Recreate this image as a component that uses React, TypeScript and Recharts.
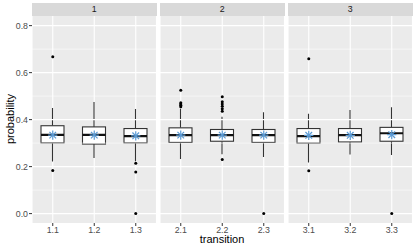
import { ComposedChart, Bar, Scatter, XAxis, YAxis, CartesianGrid, ReferenceLine } from "recharts";

const facets = ["1", "2", "3"];
const transitions = ["1.1", "1.2", "1.3", "2.1", "2.2", "2.3", "3.1", "3.2", "3.3"];
const whiskerLow = [0.222, 0.237, 0.223, 0.232, 0.253, 0.241, 0.217, 0.252, 0.249];
const lowerQuartile = [0.301, 0.296, 0.301, 0.303, 0.308, 0.303, 0.3, 0.305, 0.308];
const medians = [0.335, 0.335, 0.33, 0.334, 0.334, 0.334, 0.33, 0.334, 0.342];
const upperQuartile = [0.374, 0.369, 0.362, 0.365, 0.358, 0.358, 0.362, 0.362, 0.367];
const whiskerHigh = [0.449, 0.475, 0.445, 0.446, 0.412, 0.431, 0.425, 0.441, 0.453];
const means = [0.334, 0.334, 0.331, 0.334, 0.334, 0.334, 0.333, 0.333, 0.336];

const outlierTransition = [
  "1.1", "1.1", "1.3", "1.3", "1.3",
  "2.1", "2.1", "2.1", "2.1", "2.1",
  "2.2", "2.2", "2.2", "2.2", "2.2", "2.2", "2.2",
  "2.3", "3.1", "3.1", "3.3",
];
const outlierValue = [
  0.668, 0.183, 0.214, 0.177, 0.0,
  0.525, 0.472, 0.466, 0.461, 0.455,
  0.497, 0.476, 0.466, 0.457, 0.446, 0.436, 0.23,
  0.0, 0.659, 0.182, 0.0,
];

const majorTicks = [0, 0.2, 0.4, 0.6, 0.8];
const minorTicks = [0.1, 0.3, 0.5, 0.7];
const yDomain = [-0.04, 0.841];

const FONT = "'Liberation Sans', Arial, sans-serif";
const PANEL_LEFT = [32, 160, 288];
const PANEL_W = 124.5;

const BoxShape = (props: any) => {
  const { x, y, width, height, payload } = props;
  const top = Math.min(y, y + height);
  const h = Math.abs(height);
  const py = (v: number) => top + ((payload.hi - v) / (payload.hi - payload.lo)) * h;
  const cx = x + width / 2;
  return (
    <g>
      <line x1={cx} x2={cx} y1={py(payload.hi)} y2={py(payload.q3)} stroke="#333333" strokeWidth={1.1} />
      <line x1={cx} x2={cx} y1={py(payload.q1)} y2={py(payload.lo)} stroke="#333333" strokeWidth={1.1} />
      <rect x={x} y={py(payload.q3)} width={width} height={py(payload.q1) - py(payload.q3)} fill="#ffffff" stroke="#333333" strokeWidth={1.1} />
      <line x1={x} x2={x + width} y1={py(payload.med)} y2={py(payload.med)} stroke="#111111" strokeWidth={2.2} />
    </g>
  );
};

const Star = (props: any) => {
  const { cx, cy } = props;
  const r = 4.6;
  const d = r * 0.72;
  const c = "#5B9BD5";
  return (
    <g stroke={c} strokeWidth={1.2}>
      <line x1={cx - r} x2={cx + r} y1={cy} y2={cy} />
      <line x1={cx} x2={cx} y1={cy - r} y2={cy + r} />
      <line x1={cx - d} x2={cx + d} y1={cy - d} y2={cy + d} />
      <line x1={cx - d} x2={cx + d} y1={cy + d} y2={cy - d} />
    </g>
  );
};

const Dot = (props: any) => <circle cx={props.cx} cy={props.cy} r={1.5} fill="#000000" />;

const Panel = ({ index }: { index: number }) => {
  const facet = facets[index];
  const rows = transitions
    .map((t, i) => ({
      transition: t,
      lo: whiskerLow[i],
      q1: lowerQuartile[i],
      med: medians[i],
      q3: upperQuartile[i],
      hi: whiskerHigh[i],
      mean: means[i],
    }))
    .filter((r) => r.transition.startsWith(facet + "."));
  const outliers = outlierTransition
    .map((t, i) => ({ transition: t, value: outlierValue[i] }))
    .filter((o) => o.transition.startsWith(facet + "."));
  const first = index === 0;
  const yw = first ? 32 : 0;
  return (
    <div style={{ position: "absolute", left: PANEL_LEFT[index] - yw, top: 16 }}>
      <ComposedChart width={PANEL_W + yw} height={231} data={rows} margin={{ top: 0, right: 0, bottom: 0, left: 0 }}>
        <CartesianGrid fill="#EBEBEB" stroke="#ffffff" strokeWidth={1.1} horizontal={false} />
        {minorTicks.map((v) => (
          <ReferenceLine key={"mn" + v} y={v} stroke="#ffffff" strokeWidth={0.55} />
        ))}
        {majorTicks.map((v) => (
          <ReferenceLine key={"mj" + v} y={v} stroke="#ffffff" strokeWidth={1.1} />
        ))}
        <XAxis
          dataKey="transition"
          allowDuplicatedCategory={false}
          axisLine={false}
          tickSize={3}
          tickMargin={1}
          tickLine={{ stroke: "#333333" }}
          tick={{ fill: "#4D4D4D", fontSize: 8.8, fontFamily: FONT }}
          height={24}
          padding={{ left: 0, right: 0 }}
        />
        <YAxis
          type="number"
          domain={yDomain}
          allowDataOverflow
          ticks={majorTicks}
          tickFormatter={(v: number) => v.toFixed(1)}
          axisLine={false}
          tickSize={3}
          tickMargin={1}
          tickLine={{ stroke: "#333333" }}
          tick={{ fill: "#4D4D4D", fontSize: 8.8, fontFamily: FONT }}
          width={yw}
          hide={!first}
        />
        <Bar dataKey={(d: any) => [d.lo, d.hi]} barSize={23} shape={BoxShape} isAnimationActive={false} />
        <Scatter data={outliers} dataKey="value" shape={Dot} isAnimationActive={false} />
        <Scatter dataKey="mean" shape={Star} isAnimationActive={false} />
      </ComposedChart>
    </div>
  );
};

export default function App() {
  return (
    <div style={{ position: "absolute", left: 0, top: 0, width: 415, height: 247, background: "#ffffff", fontFamily: FONT }}>
      {facets.map((f, i) => (
        <div
          key={"strip" + f}
          style={{
            position: "absolute",
            left: PANEL_LEFT[i],
            top: 3,
            width: PANEL_W,
            height: 13,
            background: "#D9D9D9",
            color: "#1A1A1A",
            fontSize: 8.8,
            lineHeight: "13px",
            textAlign: "center",
          }}
        >
          {f}
        </div>
      ))}
      {facets.map((f, i) => (
        <Panel key={"panel" + f} index={i} />
      ))}
      <svg width={415} height={247} style={{ position: "absolute", left: 0, top: 0, pointerEvents: "none" }}>
        <text x={222} y={243} textAnchor="middle" fontSize={11} fill="#000000" fontFamily={FONT}>
          transition
        </text>
        <text x={14} y={119} textAnchor="middle" fontSize={11} fill="#000000" fontFamily={FONT} transform="rotate(-90 14 119)">
          probability
        </text>
      </svg>
    </div>
  );
}
